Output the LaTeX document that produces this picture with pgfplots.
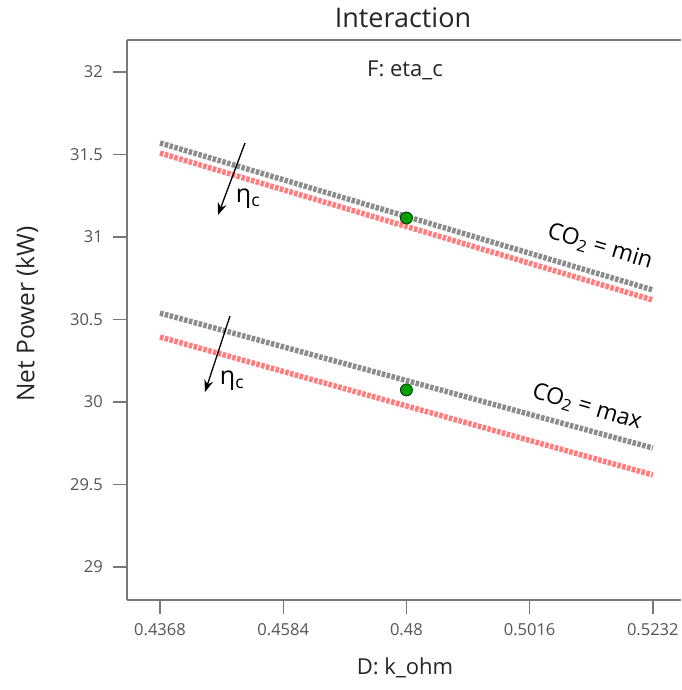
\documentclass[border=0pt]{standalone}
\usepackage{pgfplots}
\pgfplotsset{compat=1.18}
\usepackage{fontspec}
\setmainfont{Open Sans}
\usetikzlibrary{arrows.meta}
\definecolor{axgray}{RGB}{120,120,120}
\definecolor{tickgray}{RGB}{85,85,85}
\definecolor{lgray}{RGB}{140,140,140}
\definecolor{lred}{RGB}{255,125,125}
\definecolor{dgreen}{RGB}{0,160,0}
\begin{document}
\begin{tikzpicture}[x=1pt,y=1pt]
\clip (-127,-90) rectangle (554,600);
\path[use as bounding box] (-127,-90) rectangle (554,600);
\begin{axis}[
  at={(0,0)}, anchor=south west,
  scale only axis, width=554pt, height=560pt,
  xmin=0.431014, xmax=0.528144, ymin=28.8, ymax=32.194,
  axis x line*=box, axis y line*=left,
  axis line style={axgray, line width=1.6pt},
  xtick={0.4368,0.4584,0.48,0.5016,0.5232},
  xticklabels={0.4368,0.4584,0.48,0.5016,0.5232},
  ytick={29,29.5,30,30.5,31,31.5,32},
  yticklabels={29,29.5,30,30.5,31,31.5,32},
  xtick pos=left, ytick pos=left,
  tick align=outside, major tick length=14pt,
  every tick/.style={axgray, line width=1.4pt},
  tick label style={font=\fontsize{16.5}{19}\selectfont, text=tickgray},
  yticklabel style={inner sep=0pt, xshift=-10pt},
  xticklabel style={inner sep=0pt, yshift=-9pt},
  clip=false,
]
\addplot[lgray, line width=5.5pt, dash pattern=on 3.5pt off 1.5pt] coordinates {(0.4368,31.570) (0.5232,30.679)};
\addplot[lred, line width=5.5pt, dash pattern=on 3.5pt off 1.5pt] coordinates {(0.4368,31.509) (0.5232,30.618)};
\addplot[lgray, line width=5.5pt, dash pattern=on 3.5pt off 1.5pt] coordinates {(0.4368,30.539) (0.5232,29.721)};
\addplot[lred, line width=5.5pt, dash pattern=on 3.5pt off 1.5pt] coordinates {(0.4368,30.394) (0.5232,29.558)};
\addplot[only marks, mark=*, mark size=6pt, mark options={fill=dgreen, draw=black!70!dgreen, line width=0.8pt}] coordinates {(0.48,31.115) (0.48,30.073)};
\end{axis}
% title, labels (pixel coords: x-127, 600-y)
\node[font=\fontsize{27}{31}\selectfont, text=black!85] at (276,582) {Interaction};
\node[font=\fontsize{22}{26}\selectfont, text=black!85] at (278,530) {F: eta\_c};
\node[font=\fontsize{24.5}{28}\selectfont, text=black!85, rotate=90] at (-100,286) {Net Power (kW)};
\node[font=\fontsize{22}{26}\selectfont, text=black!85] at (278,-68) {D: k\_ohm};
% annotations
\draw[-{Stealth[length=12pt,width=9pt]}, line width=1.3pt] (118,457) -- (91,385);
\node[font=\fontsize{25}{28}\selectfont] at (121,401) {η\textsubscript{c}};
\draw[-{Stealth[length=12pt,width=9pt]}, line width=1.3pt] (103,284) -- (78,208);
\node[font=\fontsize{25}{28}\selectfont] at (105,219) {η\textsubscript{c}};
\node[font=\fontsize{23}{26}\selectfont, rotate=-16.6] at (473,353) {CO\textsubscript{2} = min};
\node[font=\fontsize{23}{26}\selectfont, rotate=-16.6] at (460,193) {CO\textsubscript{2} = max};
\end{tikzpicture}
\end{document}
